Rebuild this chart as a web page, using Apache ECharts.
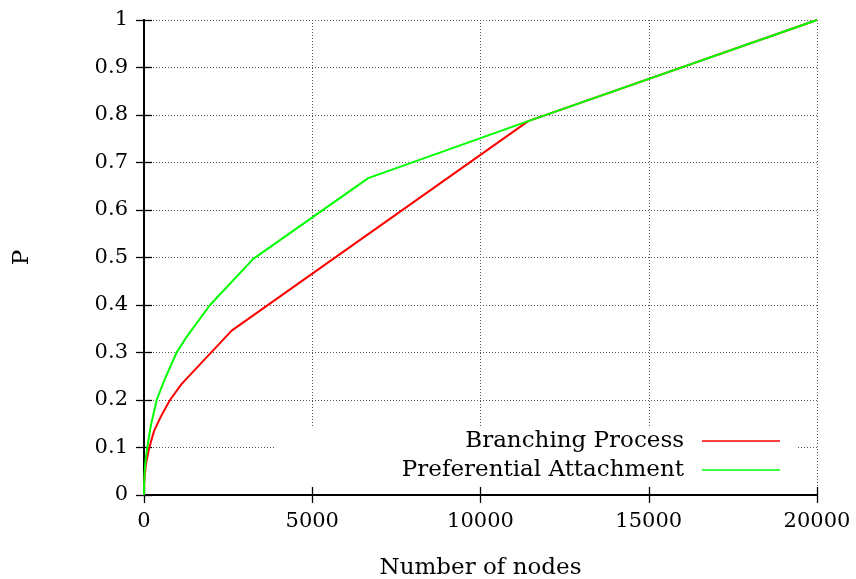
<!DOCTYPE html>
<html>
<head>
<meta charset="utf-8">
<script src="https://cdn.jsdelivr.net/npm/echarts@6/dist/echarts.min.js"></script>
<style>html,body{margin:0;padding:0;background:#fff;}#c{width:856px;height:579px;}</style>
</head>
<body>
<div id="c"></div>
<script>
// Branching Process: [nodes, P]
const branchingProcess = [
  [0, 0], [5, 0.02], [20, 0.04], [60, 0.067], [158, 0.1], [300, 0.135],
  [500, 0.165], [772, 0.2], [1120, 0.234], [2605, 0.346], [11418, 0.787], [20000, 1]
];
// Preferential Attachment: [nodes, P]
const preferentialAttachment = [
  [0, 0], [5, 0.025], [20, 0.05], [50, 0.075], [98, 0.1], [200, 0.145],
  [376, 0.2], [624, 0.245], [970, 0.3], [1268, 0.333], [1961, 0.4],
  [3248, 0.497], [6664, 0.667], [11418, 0.787], [20000, 1]
];
const seriesNames = ['Branching Process', 'Preferential Attachment'];
const xTicks = [0, 5000, 10000, 15000, 20000];
const yTicks = [0, 0.1, 0.2, 0.3, 0.4, 0.5, 0.6, 0.7, 0.8, 0.9, 1];

const FONT = 'DejaVu Serif';
const chart = echarts.init(document.getElementById('c'), null, {renderer: 'canvas'});
const axisLineStyle = {color: '#000', width: 1.8};
const tickStyle = {color: '#000', width: 1.3};
const gridDash = {color: '#555', width: 1, type: [1, 2]};

chart.setOption({
  animation: false,
  backgroundColor: '#fff',
  grid: {left: 144, right: 39, top: 20, bottom: 84, containLabel: false, outerBoundsMode: 'none'},
  legend: {
    orient: 'vertical',
    align: 'right',
    right: 59,
    top: 428,
    padding: [1.5, 17, 5.5, 126],
    backgroundColor: '#fff',
    itemWidth: 78,
    itemHeight: 1.5,
    itemGap: 6,
    icon: 'rect',
    textStyle: {fontFamily: FONT, fontSize: 23, color: '#000', padding: [0, 13, 0, 0]},
    data: seriesNames
  },
  xAxis: [{
    type: 'value', min: xTicks[0], max: xTicks[xTicks.length - 1], interval: 5000,
    position: 'bottom',
    name: 'Number of nodes', nameLocation: 'middle', nameGap: 62,
    nameTextStyle: {fontFamily: FONT, fontSize: 23, color: '#000'},
    axisLine: {show: true, lineStyle: axisLineStyle},
    axisTick: {show: true, inside: true, length: 8, lineStyle: tickStyle},
    axisLabel: {fontFamily: FONT, fontSize: 21, color: '#000', margin: 16, formatter: v => String(v)},
    splitLine: {show: true, lineStyle: gridDash}
  }, {
    type: 'value', min: xTicks[0], max: xTicks[xTicks.length - 1], interval: 5000,
    position: 'top',
    axisLine: {show: true, lineStyle: axisLineStyle},
    axisTick: {show: true, inside: true, length: 8, lineStyle: tickStyle},
    axisLabel: {show: false},
    splitLine: {show: false}
  }],
  yAxis: [{
    type: 'value', min: yTicks[0], max: yTicks[yTicks.length - 1], interval: 0.1,
    position: 'left',
    name: 'P', nameLocation: 'middle', nameGap: 110,
    nameTextStyle: {fontFamily: FONT, fontSize: 23, color: '#000'},
    axisLine: {show: true, lineStyle: axisLineStyle},
    axisTick: {show: true, inside: true, length: 8, lineStyle: tickStyle},
    axisLabel: {fontFamily: FONT, fontSize: 21, color: '#000', margin: 16, formatter: v => String(v)},
    splitLine: {show: true, lineStyle: gridDash}
  }, {
    type: 'value', min: yTicks[0], max: yTicks[yTicks.length - 1], interval: 0.1,
    position: 'right',
    axisLine: {show: true, lineStyle: axisLineStyle},
    axisTick: {show: true, inside: true, length: 8, lineStyle: tickStyle},
    axisLabel: {show: false},
    splitLine: {show: false}
  }],
  series: [{
    name: seriesNames[0], type: 'line', data: branchingProcess,
    showSymbol: false, symbol: 'none', smooth: false,
    lineStyle: {color: '#ff0000', width: 2}, itemStyle: {color: '#ff0000'}, z: 3
  }, {
    name: seriesNames[1], type: 'line', data: preferentialAttachment,
    showSymbol: false, symbol: 'none', smooth: false,
    lineStyle: {color: '#00ff00', width: 2}, itemStyle: {color: '#00ff00'}, z: 3
  }]
});
</script>
</body>
</html>
